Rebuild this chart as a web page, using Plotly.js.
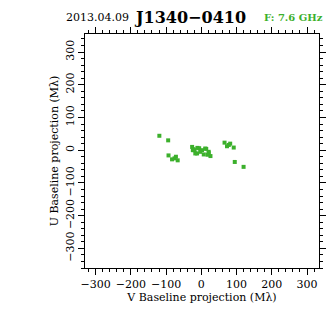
<!DOCTYPE html>
<html>
<head>
<meta charset="utf-8">
<script src="https://cdn.plot.ly/plotly-3.0.1.min.js"></script>
<style>html,body{margin:0;padding:0;background:#fff;}#chart{width:336px;height:336px;}</style>
</head>
<body>
<div id="chart"></div>
<script>
// V baseline projection (Mλ) — x axis
var vValues = [-119, -94, -93, -83, -72, -67, -76, -26, -24, -19, -11, -12, -22, -17, -6, -3, 2, 7, 11, 14, 21, 21, 26, 18, 66, 82, 73, 78, 92, 95, 120];
// U baseline projection (Mλ) — y axis
var uValues = [44, 30, -16, -28, -20, -31, -25, 10, 0, 0, 7, -10, 3, -10, 6, -5, 0, -13, 5, 4, -5, -9, -18, -14, 23, 20, 12, 16, 8, -36, -51];
var tickVals = [-300, -200, -100, 0, 100, 200, 300];
var tickText = ['\u2212300', '\u2212200', '\u2212100', '0', '100', '200', '300'];
var dateLabel = '2013.04.09';
var sourceName = 'J1340\u22120410';
var freqLabel = 'F: 7.6 GHz';

var green = '#3cb02c';
var font = 'DejaVu Serif, Liberation Serif, serif';
var xRange = [-330, 334];
var yRange = [-360, 355];

var trace = {
  x: vValues, y: uValues, type: 'scatter', mode: 'markers',
  marker: {symbol: 'square', size: 4, color: green, line: {width: 0}},
  hoverinfo: 'none'
};
var frameTrace = {x: [null], y: [null], xaxis: 'x2', yaxis: 'y2', type: 'scatter', mode: 'markers', hoverinfo: 'none', showlegend: false};

function axis(range, title, standoff, tickangle, showLabels) {
  return {
    range: range, showgrid: false, zeroline: false,
    showline: true, linecolor: '#000', linewidth: 1, mirror: true,
    ticks: 'outside', ticklen: 6, tickwidth: 1, tickcolor: '#000',
    tickvals: tickVals, ticktext: tickText, tickangle: tickangle,
    showticklabels: showLabels,
    tickfont: {family: font, size: 11, color: '#000'},
    minor: {dtick: 20, tick0: 0, ticks: 'outside', ticklen: 3, tickwidth: 1, tickcolor: '#000', showgrid: false},
    title: {text: title, font: {family: font, size: 11, color: '#000'}, standoff: standoff},
    automargin: false, fixedrange: true
  };
}

var xaxis2 = axis(xRange, '', 0, 0, false);
xaxis2.overlaying = 'x'; xaxis2.side = 'top'; xaxis2.anchor = 'y';
var yaxis2 = axis(yRange, '', 0, -90, false);
yaxis2.overlaying = 'y'; yaxis2.side = 'right'; yaxis2.anchor = 'x';

var layout = {
  width: 336, height: 336,
  margin: {l: 85, r: 17, t: 34, b: 68, pad: 0},
  paper_bgcolor: '#fff', plot_bgcolor: '#fff',
  showlegend: false,
  xaxis: axis(xRange, 'V Baseline projection (M\u03bb)', 3, 0, true),
  yaxis: axis(yRange, 'U Baseline projection (M\u03bb)', 2, -90, true),
  xaxis2: xaxis2,
  yaxis2: yaxis2,
  annotations: [
    {text: dateLabel, xref: 'paper', yref: 'paper', x: (97-85)/234, y: (268-17)/234, xanchor: 'center', yanchor: 'middle', showarrow: false, font: {family: font, size: 11, color: '#000'}},
    {text: '<b>' + sourceName + '</b>', xref: 'paper', yref: 'paper', x: (190-85)/234, y: (268-17)/234, xanchor: 'center', yanchor: 'middle', showarrow: false, font: {family: font, size: 16, color: '#000'}},
    {text: '<b>' + freqLabel + '</b>', xref: 'paper', yref: 'paper', x: (293-85)/234, y: (268-17)/234, xanchor: 'center', yanchor: 'middle', showarrow: false, font: {family: font, size: 10, color: green}}
  ]
};

Plotly.newPlot('chart', [trace, frameTrace], layout, {staticPlot: true, displayModeBar: false});
</script>
</body>
</html>
